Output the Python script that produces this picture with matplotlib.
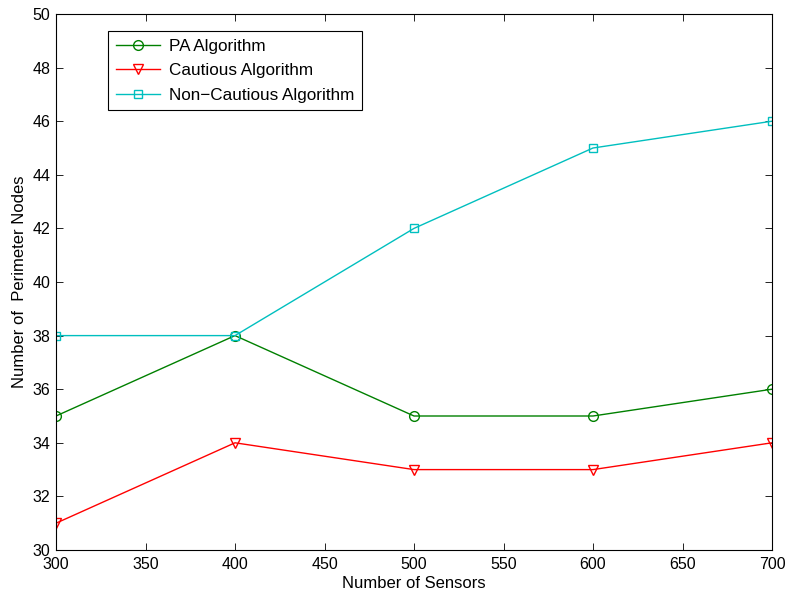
import matplotlib
matplotlib.use("Agg")
import matplotlib.pyplot as plt

plt.rcParams['font.family'] = ['Liberation Sans', 'DejaVu Sans']

sensors = [300, 400, 500, 600, 700]
pa_nodes = [35, 38, 35, 35, 36]
cautious_nodes = [31, 34, 33, 33, 34]
noncautious_nodes = [38, 38, 42, 45, 46]

fig = plt.figure(figsize=(7.86, 5.93), dpi=100)
ax = fig.add_axes([56/786, 1 - 550/593, 716/786, 536/593])

ax.plot(sensors, pa_nodes, color="#008000", lw=1.0, marker="o", ms=7,
        mfc="none", mec="#008000", mew=1.0, label="PA Algorithm")
ax.plot(sensors, cautious_nodes, color="#ff0000", lw=1.0, marker="v", ms=7,
        mfc="none", mec="#ff0000", mew=1.0, label="Cautious Algorithm")
ax.plot(sensors, noncautious_nodes, color="#00bfbf", lw=1.0, marker="s", ms=6,
        mfc="none", mec="#00bfbf", mew=1.0, label="Non\u2212Cautious Algorithm")

ax.set_xlim(300, 700)
ax.set_ylim(30, 50)
ax.set_xticks(range(300, 701, 50))
ax.set_yticks(range(30, 51, 2))
ax.tick_params(direction="in", top=True, right=True, labelsize=11.5, length=5, width=0.6)
ax.tick_params(axis="x", pad=5)
ax.tick_params(axis="y", pad=4)
for s in ax.spines.values():
    s.set_linewidth(0.8)

ax.set_xlabel("Number of Sensors", fontsize=12, labelpad=3)
ax.set_ylabel("Number of  Perimeter Nodes", fontsize=12, labelpad=4)

leg = ax.legend(loc="upper left", bbox_to_anchor=(0.073, 0.968), fontsize=12.3,
                frameon=True, fancybox=False, edgecolor="black", framealpha=1,
                borderpad=0.45, labelspacing=0.55, handlelength=2.6, handletextpad=0.5,
                borderaxespad=0)
leg.get_frame().set_linewidth(0.8)

fig.savefig("out.png", dpi=100)
